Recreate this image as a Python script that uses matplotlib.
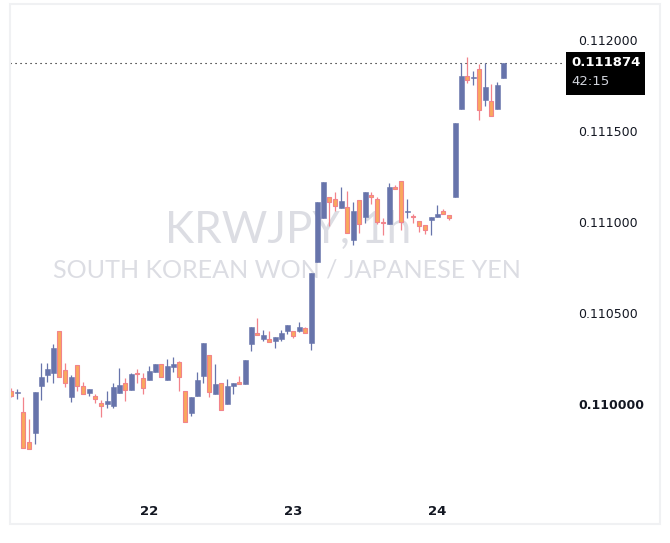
import numpy as np
import pandas as pd
import matplotlib
matplotlib.use("Agg")
import matplotlib.pyplot as plt
import matplotlib.transforms as mtransforms
from matplotlib.patches import Rectangle

# ---------------- data (hourly KRW/JPY candles) ----------------
opens = [0.110071, 0.110060, 0.109956, 0.109791, 0.109842, 0.110101, 0.110161, 0.110169, 0.110399, 0.110185,
         0.110040, 0.110213, 0.110097, 0.110062, 0.110042, 0.110004, 0.109998, 0.109989, 0.110062, 0.110115,
         0.110079, 0.110166, 0.110141, 0.110134, 0.110174, 0.110218, 0.110130, 0.110205, 0.110229, 0.110070,
         0.109952, 0.110046, 0.110156, 0.110268, 0.110053, 0.110114, 0.110002, 0.110097, 0.110121, 0.110108,
         0.110328, 0.110390, 0.110359, 0.110355, 0.110348, 0.110359, 0.110403, 0.110399, 0.110403, 0.110418,
         0.110337, 0.110782, 0.111024, 0.111136, 0.111126, 0.111079, 0.111081, 0.110903, 0.111119, 0.111029,
         0.111148, 0.111125, 0.110994, 0.110987, 0.111192, 0.111224, 0.111053, 0.111033, 0.111005, 0.110982,
         0.111013, 0.111029, 0.111060, 0.111038, 0.111139, 0.111623, 0.111802, 0.111789, 0.111841, 0.111672,
         0.111665, 0.111623, 0.111791]
highs = [0.110086, 0.110082, 0.110038, 0.109918, 0.110066, 0.110225, 0.110225, 0.110330, 0.110399, 0.110225,
         0.110159, 0.110213, 0.110121, 0.110081, 0.110055, 0.110020, 0.110073, 0.110114, 0.110198, 0.110143,
         0.110170, 0.110192, 0.110170, 0.110209, 0.110220, 0.110218, 0.110247, 0.110258, 0.110235, 0.110070,
         0.110038, 0.110176, 0.110335, 0.110268, 0.110220, 0.110114, 0.110136, 0.110115, 0.110152, 0.110242,
         0.110423, 0.110473, 0.110407, 0.110399, 0.110368, 0.110407, 0.110434, 0.110399, 0.110451, 0.110423,
         0.110720, 0.111110, 0.111220, 0.111136, 0.111163, 0.111192, 0.111169, 0.111108, 0.111119, 0.111163,
         0.111163, 0.111137, 0.111020, 0.111214, 0.111202, 0.111224, 0.111126, 0.111042, 0.111005, 0.110982,
         0.111027, 0.111093, 0.111071, 0.111038, 0.111544, 0.111872, 0.111907, 0.111830, 0.111870, 0.111872,
         0.111758, 0.111769, 0.111874]
lows = [0.110038, 0.110029, 0.109760, 0.109751, 0.109782, 0.110024, 0.110121, 0.110117, 0.110147, 0.110095,
        0.110013, 0.110070, 0.110053, 0.110044, 0.110004, 0.109930, 0.109980, 0.109976, 0.110062, 0.110018,
        0.110079, 0.110114, 0.110057, 0.110134, 0.110174, 0.110147, 0.110130, 0.110174, 0.110073, 0.109899,
        0.109936, 0.110046, 0.110115, 0.110040, 0.110053, 0.109965, 0.110002, 0.110057, 0.110108, 0.110108,
        0.110293, 0.110377, 0.110348, 0.110339, 0.110309, 0.110348, 0.110386, 0.110364, 0.110396, 0.110392,
        0.110297, 0.110782, 0.111024, 0.110980, 0.111062, 0.111079, 0.110938, 0.110875, 0.110941, 0.110996,
        0.111097, 0.110987, 0.110930, 0.110987, 0.111180, 0.110956, 0.111020, 0.110993, 0.110943, 0.110936,
        0.110930, 0.111029, 0.111042, 0.111011, 0.111139, 0.111623, 0.111765, 0.111754, 0.111562, 0.111639,
        0.111581, 0.111623, 0.111791]
closes = [0.110042, 0.110061, 0.109760, 0.109751, 0.110066, 0.110148, 0.110192, 0.110308, 0.110147, 0.110114,
          0.110147, 0.110097, 0.110053, 0.110081, 0.110026, 0.109987, 0.110016, 0.110093, 0.110104, 0.110075,
          0.110165, 0.110164, 0.110086, 0.110181, 0.110220, 0.110147, 0.110209, 0.110220, 0.110147, 0.109899,
          0.110038, 0.110132, 0.110335, 0.110064, 0.110110, 0.109965, 0.110099, 0.110115, 0.110108, 0.110242,
          0.110423, 0.110377, 0.110379, 0.110339, 0.110368, 0.110390, 0.110434, 0.110372, 0.110423, 0.110392,
          0.110720, 0.111110, 0.111220, 0.111108, 0.111090, 0.111115, 0.110938, 0.111060, 0.110987, 0.111163,
          0.111137, 0.111002, 0.110992, 0.111192, 0.111180, 0.110998, 0.111060, 0.111026, 0.110976, 0.110954,
          0.111027, 0.111044, 0.111042, 0.111024, 0.111544, 0.111802, 0.111782, 0.111791, 0.111617, 0.111742,
          0.111581, 0.111753, 0.111874]
times = pd.date_range("2025-04-21 01:00", periods=len(opens), freq="h")
price_ticks = [0.110000, 0.110500, 0.111000, 0.111500, 0.112000]
symbol_title = "KRWJPY, 1h"
symbol_desc = "SOUTH KOREAN WON / JAPANESE YEN"
countdown = "42:15"

# ---------------- styling ----------------
UP = "#6774ab"
DOWN_FILL = "#f9a85d"
DOWN_EDGE = "#f2838b"
TEXT = "#131722"
W, H, DPI = 670, 543, 100

fig = plt.figure(figsize=(W / DPI, H / DPI), dpi=DPI)
fig.patch.set_facecolor("white")
ax = fig.add_axes([10 / W, 1 - 490 / H, (565 - 10) / W, (490 - 5) / H])
ax.set_facecolor("none")

o = np.array(opens); h = np.array(highs); l = np.array(lows); c = np.array(closes)
x = np.arange(len(o))
up = c >= o

ax.set_xlim(-0.22, 92.28)
ax.set_ylim(0.1095275, 0.112192)

px = (0.112192 - 0.1095275) / 485.0

# watermark (below the candles)
ax.text(288 / W, 1 - 243 / H, symbol_title, transform=fig.transFigure, ha="center", va="baseline",
        fontsize=31.7, color="#dcdde3", family="Lato", zorder=0)
ax.text(287 / W, 1 - 278 / H, symbol_desc, transform=fig.transFigure, ha="center", va="baseline",
        fontsize=18.1, color="#dcdde3", family="Lato", zorder=0)

# wicks
ax.vlines(x[up], l[up], h[up], color=UP, linewidth=0.9, zorder=2)
ax.vlines(x[~up], l[~up], h[~up], color=DOWN_EDGE, linewidth=0.9, zorder=2)
# bodies
body_lo = np.minimum(o, c)
body_h = np.maximum(np.abs(c - o), px)
ax.bar(x[up], body_h[up], bottom=body_lo[up], width=0.75, color=UP,
       edgecolor=UP, linewidth=0.4, zorder=3)
ax.bar(x[~up], body_h[~up], bottom=body_lo[~up], width=0.72, color=DOWN_FILL,
       edgecolor=DOWN_EDGE, linewidth=0.8, zorder=3)

# last price dotted line
last = c[-1]
ax.axhline(last, color="black", linewidth=0.8, linestyle=(0, (1, 3.5)), zorder=1)

# axes styling
for s in ax.spines.values():
    s.set_visible(False)
ax.yaxis.tick_right()
ax.set_yticks(price_ticks)
ax.set_yticklabels([f"{v:.6f}" for v in price_ticks])
ax.tick_params(axis="y", length=0, pad=9.5, labelsize=9, labelcolor=TEXT)
for lab, v in zip(ax.get_yticklabels(), price_ticks):
    if abs(v - 0.110000) < 1e-9:
        lab.set_fontweight("bold")

day_idx = [i for i, t in enumerate(times) if t.hour == 0]
ax.set_xticks(day_idx)
ax.set_xticklabels([str(times[i].day) for i in day_idx])
ax.tick_params(axis="x", length=0, pad=11, labelsize=9.5, labelcolor=TEXT)
for lab in ax.get_xticklabels():
    lab.set_fontweight("bold")

# last price label box
fig.canvas.draw()
y_disp = ax.transData.transform((0, last))[1]
ident = mtransforms.IdentityTransform()
box_left, box_right = 566, 645
box_top = y_disp + 11
box_bot = y_disp - 32
fig.patches.append(Rectangle((box_left, box_bot), box_right - box_left, box_top - box_bot,
                             transform=ident, facecolor="black", edgecolor="none", zorder=5))
fig.text(571 / W, y_disp / H, f"{last:.6f}", transform=fig.transFigure, ha="left", va="center",
         fontsize=9.5, color="white", fontweight="bold", zorder=6)
fig.text(571 / W, (y_disp - 19) / H, countdown, ha="left", va="center",
         fontsize=9.5, color="#d1d4dc", zorder=6)

# outer light frame
fig.patches.append(Rectangle((9.5, H - 524), 660 - 9.5, 524 - 3.5, transform=ident,
                             facecolor="none", edgecolor="#f0f1f3", linewidth=1.5, zorder=0))

fig.savefig("out.png", dpi=DPI, facecolor="white")
